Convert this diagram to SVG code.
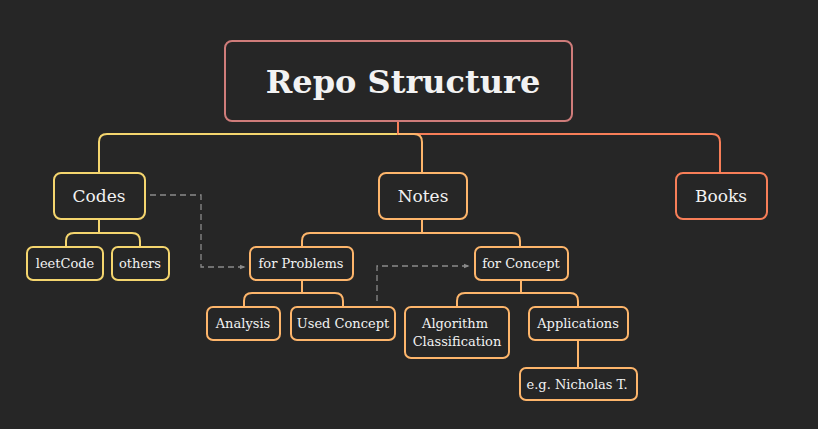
<svg xmlns="http://www.w3.org/2000/svg" width="818" height="429" viewBox="0 0 818 429">
<defs>
<marker id="arr" viewBox="0 0 10 10" refX="9" refY="5" markerWidth="6" markerHeight="6" orient="auto" markerUnits="userSpaceOnUse"><path d="M0,1 L10,5 L0,9 z" fill="#8a8a8a"/></marker>
<style>
text{font-family:"DejaVu Serif","Liberation Serif",serif;fill:#f2f2f2;text-anchor:middle;}
.t1{font-size:32px;font-weight:bold;}
.t2{font-size:17px;}
.t3{font-size:13px;}
rect{fill:#262626;stroke-width:2;}
.y{stroke:#f4d56e;}
.o{stroke:#fdb56b;}
.r{stroke:#f77e58;}
.p{stroke:#cf7c7a;}
.c{fill:none;stroke-width:2;}
.d{fill:none;stroke:#8a8a8a;stroke-width:1.3;stroke-dasharray:6 4;}
</style>
</defs>
<rect x="0" y="0" width="818" height="429" fill="#262626" style="stroke:none"/>
<g id="connectors">
<path class="c y" d="M398,134 H107 Q99,134 99,142 V173"/>
<path class="c r" d="M398,121 V134 H712 Q720,134 720,142 V173"/>
<path class="c o" d="M398,134 H414 Q422,134 422,142 V173"/>
<path class="c y" d="M99,219 V233 M66,247 V241 Q66,233 74,233 H132 Q140,233 140,241 V247"/>
<path class="c o" d="M422,219 V233 M302,247 V241 Q302,233 310,233 H512 Q520,233 520,241 V247"/>
<path class="c o" d="M302,280 V293 M244,307 V301 Q244,293 252,293 H335 Q343,293 343,301 V307"/>
<path class="c o" d="M521,280 V293 M457,307 V301 Q457,293 465,293 H570 Q578,293 578,301 V307"/>
<path class="c o" d="M578,340 V368"/>
<path class="d" d="M150,195 H201 V267 H245" marker-end="url(#arr)"/>
<path class="d" d="M377,301 V266 H469" marker-end="url(#arr)"/>
</g>
<g id="root"><rect class="p" x="225" y="41" width="347" height="80" rx="7"/><text class="t1" x="403" y="93">Repo Structure</text></g>
<g id="codes"><rect class="y" x="54" y="173" width="91" height="46" rx="7"/><text class="t2" x="99" y="202">Codes</text></g>
<g id="notes"><rect class="o" x="379" y="173" width="88" height="46" rx="7"/><text class="t2" x="423" y="202">Notes</text></g>
<g id="books"><rect class="r" x="676" y="173" width="91" height="46" rx="7"/><text class="t2" x="721" y="202">Books</text></g>
<g id="leetcode"><rect class="y" x="27" y="247" width="76" height="33" rx="6"/><text class="t3" x="65" y="268">leetCode</text></g>
<g id="others"><rect class="y" x="112" y="247" width="57" height="33" rx="6"/><text class="t3" x="140" y="268">others</text></g>
<g id="forproblems"><rect class="o" x="250" y="247" width="103" height="33" rx="6"/><text class="t3" x="301" y="268">for Problems</text></g>
<g id="forconcept"><rect class="o" x="475" y="247" width="93" height="33" rx="6"/><text class="t3" x="521" y="268">for Concept</text></g>
<g id="analysis"><rect class="o" x="207" y="307" width="73" height="33" rx="6"/><text class="t3" x="243" y="328">Analysis</text></g>
<g id="usedconcept"><rect class="o" x="291" y="307" width="104" height="33" rx="6"/><text class="t3" x="343" y="328">Used Concept</text></g>
<g id="algorithm"><rect class="o" x="405" y="307" width="104" height="51" rx="6"/><text class="t3" x="455" y="328">Algorithm</text><text class="t3" x="457" y="346">Classification</text></g>
<g id="applications"><rect class="o" x="529" y="307" width="99" height="33" rx="6"/><text class="t3" x="578" y="328">Applications</text></g>
<g id="nicholas"><rect class="o" x="520" y="368" width="117" height="32" rx="6"/><text class="t3" x="577" y="389">e.g. Nicholas T.</text></g>
</svg>
